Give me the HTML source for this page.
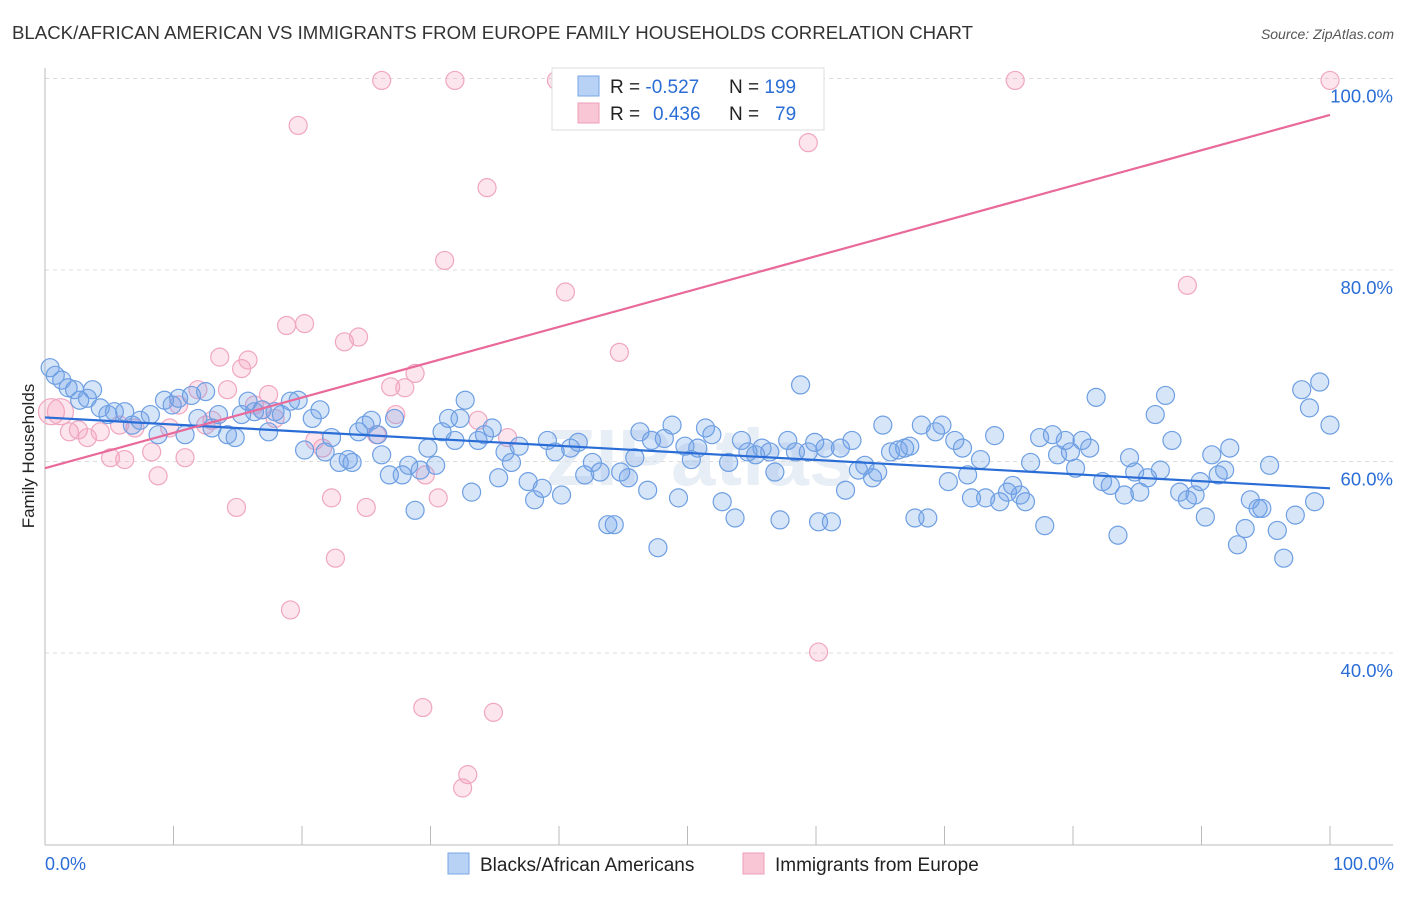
<!DOCTYPE html>
<html><head><meta charset="utf-8"><style>
body{margin:0;background:#fff;font-family:"Liberation Sans",sans-serif;}
svg text{font-family:"Liberation Sans",sans-serif;}
</style></head><body>
<svg id="c" width="1406" height="892" xmlns="http://www.w3.org/2000/svg">
<text x="12" y="39" font-size="18" fill="#333" textLength="961" lengthAdjust="spacingAndGlyphs">BLACK/AFRICAN AMERICAN VS IMMIGRANTS FROM EUROPE FAMILY HOUSEHOLDS CORRELATION CHART</text>
<text x="1394" y="39" font-size="14" fill="#555" font-style="italic" text-anchor="end">Source: ZipAtlas.com</text>
<text x="34" y="456" font-size="17" fill="#222" text-anchor="middle" transform="rotate(-90 34 456)">Family Households</text>
<text x="700" y="485" font-size="80" fill="#e8eef5" text-anchor="middle" font-weight="bold">ZIPatlas</text>
<g id="grid"></g><g id="pts"></g><g id="lines"></g>
<g>
<rect x="552" y="68" width="272" height="62" fill="#fff" stroke="#ddd"/>
<rect x="578" y="76" width="21" height="20" fill="#b8d2f5" stroke="#7aa6e6"/>
<rect x="578" y="103" width="21" height="20" fill="#f9c6d6" stroke="#ee9fba"/>
<text x="610" y="93" font-size="19" fill="#222">R = <tspan fill="#2a6dd6">-0.527</tspan></text>
<text x="729" y="93" font-size="19" fill="#222">N = <tspan fill="#2a6dd6">199</tspan></text>
<text x="610" y="120" font-size="19" fill="#222">R = <tspan fill="#2a6dd6" x="653">0.436</tspan></text>
<text x="729" y="120" font-size="19" fill="#222">N = <tspan fill="#2a6dd6" x="775">79</tspan></text>
</g>
<g>
<rect x="448" y="853" width="21" height="21" fill="#b8d2f5" stroke="#7aa6e6"/>
<text x="480" y="871" font-size="19" fill="#222">Blacks/African Americans</text>
<rect x="743" y="853" width="21" height="21" fill="#f9c6d6" stroke="#ee9fba"/>
<text x="775" y="871" font-size="19" fill="#222">Immigrants from Europe</text>
</g>
<text x="45" y="870" font-size="18" fill="#2a6dd6">0.0%</text>
<text x="1394" y="870" font-size="18" fill="#2a6dd6" text-anchor="end">100.0%</text>
</svg>
<script>
const yTicks=[100,80,60,40];
const yTickLabels=["100.0%","80.0%","60.0%","40.0%"];
const blueX=[0.4,0.8,1.3,1.8,2.3,3.7,2.7,3.3,4.3,4.9,5.4,6.2,6.8,7.4,8.2,8.8,9.3,9.9,10.4,10.9,11.4,11.9,12.5,13.0,13.5,14.2,14.8,15.3,15.8,16.3,16.9,17.4,17.9,18.4,19.1,19.7,20.2,20.8,21.4,21.8,22.3,22.9,23.6,23.9,24.4,24.9,25.4,25.9,26.2,26.8,27.2,27.8,28.3,28.8,29.2,29.8,30.4,30.9,31.4,31.9,32.3,32.7,33.2,33.7,34.2,34.8,35.3,35.8,36.3,36.9,37.6,38.1,38.7,39.1,39.7,40.2,40.9,41.5,42.0,42.6,43.2,43.8,44.3,44.8,45.4,45.9,46.3,46.9,47.2,47.7,48.2,48.8,49.3,49.8,50.3,50.8,51.4,51.9,52.7,53.2,53.7,54.2,54.7,55.3,55.8,56.4,56.8,57.2,57.8,58.4,58.8,59.4,59.9,60.2,60.7,61.2,61.9,62.3,62.8,63.3,63.8,64.4,64.8,65.2,65.8,66.4,66.9,67.3,67.7,68.2,68.7,69.3,69.8,70.3,70.8,71.4,71.8,72.1,72.8,73.2,73.9,74.3,74.9,75.3,75.9,76.3,76.7,77.4,77.8,78.4,78.8,79.4,79.8,80.2,80.7,81.3,81.8,82.3,82.9,83.5,84.0,84.4,84.8,85.2,85.8,86.4,86.8,87.2,87.7,88.3,88.9,89.5,89.9,90.3,90.8,91.3,91.8,92.2,92.8,93.4,93.8,94.4,94.7,95.3,95.9,96.4,97.3,97.8,98.4,98.8,99.2,100];
const blueY=[69.8,69.0,68.5,67.7,67.5,67.5,66.4,66.6,65.6,64.9,65.2,65.2,63.8,64.3,64.9,62.8,66.4,65.9,66.6,62.8,66.9,64.5,67.3,63.5,64.9,62.8,62.5,64.9,66.3,65.2,65.4,63.1,65.2,64.9,66.3,66.4,61.2,64.5,65.4,61.0,62.5,59.9,60.2,59.9,63.1,63.8,64.3,62.8,60.7,58.6,64.5,58.6,59.6,54.9,59.1,61.4,59.6,63.1,64.5,62.2,64.5,66.4,56.8,62.2,62.8,63.5,58.3,61.0,59.9,61.6,57.9,56.0,57.2,62.2,61.0,56.5,61.4,62.0,58.6,59.9,58.9,53.4,53.4,58.9,58.3,60.4,63.1,57.0,62.2,51.0,62.4,63.8,56.2,61.6,60.2,61.4,63.5,62.8,55.8,59.9,54.1,62.2,61.0,60.7,61.4,61.0,58.9,53.9,62.2,61.0,68.0,61.0,62.0,53.7,61.4,53.7,61.4,57.0,62.2,59.1,59.6,58.3,58.9,63.8,61.0,61.2,61.4,61.6,54.1,63.8,54.1,63.1,63.8,57.9,62.2,61.4,58.6,56.2,60.2,56.2,62.7,55.8,56.8,57.5,56.5,55.8,59.9,62.5,53.3,62.8,60.7,62.2,61.0,59.3,62.2,61.4,66.7,57.9,57.5,52.3,56.5,60.4,58.9,56.8,58.3,64.9,59.1,66.9,62.2,56.8,56.0,56.5,57.9,54.2,60.7,58.6,59.1,61.4,51.3,53.0,56.0,55.1,55.1,59.6,52.8,49.9,54.4,67.5,65.6,55.8,68.3,63.8];
const pinkX=[0.5,1.2,1.9,2.6,3.3,4.3,5.1,6.2,5.8,7.0,8.3,8.8,9.7,10.4,10.9,11.9,12.5,13.0,13.6,14.2,14.9,15.3,15.8,16.3,16.9,17.4,17.9,18.8,19.1,19.7,20.2,21.0,21.6,22.3,22.6,23.3,24.4,25.0,25.8,26.2,26.9,27.3,28.0,28.8,29.4,29.6,30.6,31.1,31.9,32.5,32.9,33.7,34.4,34.9,36.0,39.8,40.5,44.7,47.2,48.0,51.9,54.7,56.8,59.4,60.2,75.5,88.9,100];
const pinkY=[65.2,65.2,63.1,63.3,62.5,63.1,60.4,60.2,63.8,63.5,61.0,58.5,63.5,65.9,60.4,67.5,63.8,64.3,70.9,67.5,55.2,69.7,70.6,65.9,65.4,67.0,64.5,74.2,44.5,95.1,74.4,62.2,61.4,56.2,49.9,72.5,73.0,55.2,62.8,99.8,67.8,64.9,67.7,69.2,34.3,58.6,56.2,81.0,99.8,25.9,27.3,64.3,88.6,33.8,62.5,99.8,77.7,71.4,99.8,99.8,99.8,99.8,99.8,93.3,40.1,99.8,78.4,99.8];
const blueTrend=[64.6,57.2];
const pinkTrend=[59.3,96.2];
const NS="http://www.w3.org/2000/svg";
const xs=v=>45+v*12.85;
const ys=v=>1036-v*9.575;
function mk(tag,attrs,parent){const e=document.createElementNS(NS,tag);for(const k in attrs)e.setAttribute(k,attrs[k]);parent.appendChild(e);return e;}
const grid=document.getElementById('grid');
yTicks.forEach((t,i)=>{
 const l=mk('line',{x1:45,x2:1393,y1:ys(t),y2:ys(t),stroke:'#dcdcdc','stroke-dasharray':'4,4'},grid);
 
 
 const tx=mk('text',{x:1393,y:ys(t)+24,'font-size':18.5,fill:'#2a6dd6','text-anchor':'end'},grid);
 tx.textContent=yTickLabels[i];
 
 
});
mk('line',{x1:45,x2:45,y1:68,y2:845,stroke:'#bbb'},grid);
mk('line',{x1:45,x2:1393,y1:845,y2:845,stroke:'#bbb'},grid);
for(let k=0;k<=10;k++){const t=mk('line',{x1:xs(k*10),x2:xs(k*10),y1:826,y2:845,stroke:'#bbb'},grid);
 
 }
const pts=document.getElementById('pts');
pinkX.forEach((x,i)=>{const c=mk('circle',{cx:xs(x),cy:ys(pinkY[i]),r:i<2?13:9,fill:'rgba(244,160,190,0.28)',stroke:'#f0a6c0','stroke-width':1.2},pts);
 
 });
blueX.forEach((x,i)=>{const c=mk('circle',{cx:xs(x),cy:ys(blueY[i]),r:9,fill:'rgba(110,160,235,0.28)',stroke:'#6e9fe2','stroke-width':1.2},pts);
 
 });
const lines=document.getElementById('lines');
const bl=mk('line',{x1:xs(0),x2:xs(100),y1:ys(blueTrend[0]),y2:ys(blueTrend[1]),stroke:'#2a6dd6','stroke-width':2.2},lines);


const pl=mk('line',{x1:xs(0),x2:xs(100),y1:ys(pinkTrend[0]),y2:ys(pinkTrend[1]),stroke:'#e8699a','stroke-width':2.2},lines);


</script>
</body></html>
